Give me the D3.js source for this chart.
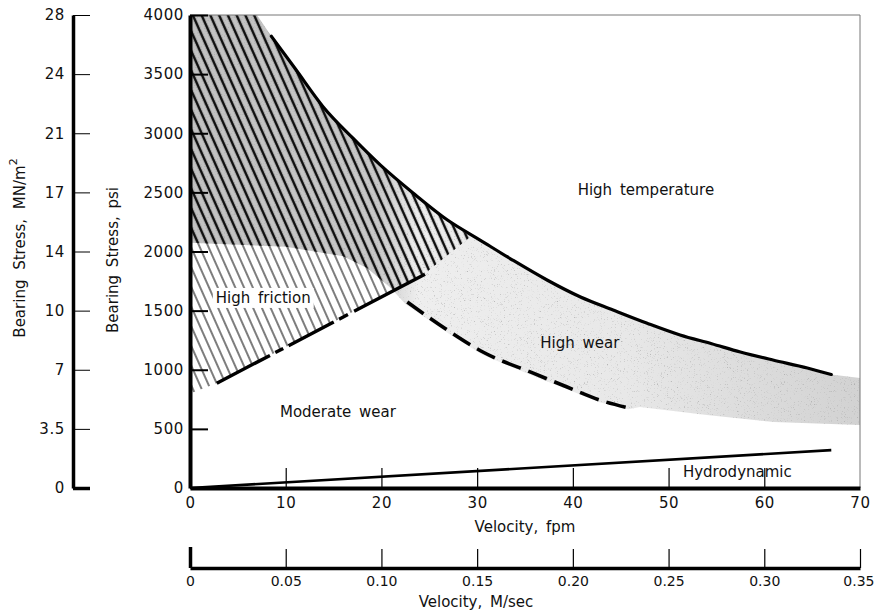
<!DOCTYPE html>
<html>
<head>
<meta charset="utf-8">
<script src="https://cdn.jsdelivr.net/npm/d3@7"></script>
<style>
  body { margin: 0; background: #fff; }
  svg { display: block; font-family: "DejaVu Sans", sans-serif; }
  .tick text { font-size: 15px; letter-spacing: 0.6px; fill: #111; }
  .ms .tick text { font-size: 14px; letter-spacing: 0; }
  .label { font-size: 15px; word-spacing: 3px; fill: #111; }
</style>
</head>
<body>
<div id="chart"></div>
<script>
// axis ticks
const velTicks = [0, 10, 20, 30, 40, 50, 60, 70];
const psiTicks = [0, 500, 1000, 1500, 2000, 2500, 3000, 3500, 4000];
const mnLabels = ["0", "3.5", "7", "10", "14", "17", "21", "24", "28"];
const msTicks = [0, 0.05, 0.10, 0.15, 0.20, 0.25, 0.30, 0.35];
const msLabels = ["0", "0.05", "0.10", "0.15", "0.20", "0.25", "0.30", "0.35"];

// high temperature limit (solid curve)
const tempVel = [8.5, 11, 13.9, 17, 19.9, 23.3, 26.9, 30.3, 33.7, 37.3, 40.8, 44.2, 47.7, 51.2, 54.5, 57.5, 60.9, 64.5, 67];
const tempPsi = [3820, 3545, 3225, 2960, 2730, 2495, 2266, 2097, 1928, 1759, 1615, 1505, 1395, 1294, 1220, 1150, 1082, 1015, 960];

// hydrodynamic line
const hydroVel = [0, 67];
const hydroPsi = [0, 320];

// high friction lower limit (dashed)
const frictionVel = [2.8, 24.6];
const frictionPsi = [886, 1810];

// high wear lower limit (dashed)
const wearVel = [22.7, 27.2, 30.6, 35.8, 39.4, 42.8, 45.8];
const wearPsi = [1573, 1319, 1150, 973, 854, 744, 677];

// hatched zone corners not on the curves
const hatchTopVel = [0, 7];
const hatchTopPsi = [4000, 4000];
const hatchEndVel = [29.3, 24.3];
const hatchEndPsi = [2125, 1800];
const hatchFootVel = [0];
const hatchFootPsi = [800];

// stippled zone: right end and lower edge (right to left)
const stippleEndVel = [70];
const stippleEndPsi = [930];
const stippleLowVel = [70, 61, 54, 47, 45.8, 42.8, 39.4, 35.8, 30.6, 27.2, 22.5, 21, 18.5, 16, 10, 0];
const stipplePsi = [533, 558, 618, 685, 665, 725, 835, 950, 1125, 1295, 1555, 1690, 1860, 1960, 2040, 2075];

// region names
const regionNames = ["High temperature", "High friction", "High wear", "Moderate wear", "Hydrodynamic"];
const regionVel = [40.5, 2.7, 36.6, 9.4, 51.5];
const regionPsi = [2478, 1565, 1184, 600, 93];

const width = 875, height = 616;
const x = d3.scaleLinear().domain([0, 70]).range([190, 860]);
const y = d3.scaleLinear().domain([0, 4000]).range([488, 15]);
const ms = d3.scaleLinear().domain([0, 0.35]).range([190, 860]);

const zip = (a, b) => a.map((v, i) => [v, b[i]]);
const line = d3.line().x(d => x(d[0])).y(d => y(d[1]));
const smooth = d3.line().x(d => x(d[0])).y(d => y(d[1])).curve(d3.curveMonotoneX);

const svg = d3.select("#chart").append("svg")
    .attr("width", width)
    .attr("height", height);

const defs = svg.append("defs");

function hatch(id, w) {
    const p = defs.append("pattern")
        .attr("id", id)
        .attr("patternUnits", "userSpaceOnUse")
        .attr("width", 8)
        .attr("height", 20)
        .attr("patternTransform", "rotate(-24)");
    p.append("line")
        .attr("x1", 2).attr("x2", 2)
        .attr("y1", 0).attr("y2", 20)
        .attr("stroke", "#111")
        .attr("stroke-width", w);
}
hatch("hatchThin", 1.1);
hatch("hatchThick", 2.4);

const grad = defs.append("linearGradient")
    .attr("id", "stippleFill")
    .attr("gradientUnits", "userSpaceOnUse")
    .attr("x1", x(0)).attr("x2", x(70))
    .attr("y1", 0).attr("y2", 0);
[[0, "#c2c2c2"], [0.28, "#c8c8c8"], [0.34, "#eeeeee"], [0.65, "#e8e8e8"], [1, "#d2d2d2"]]
    .forEach(s => grad.append("stop").attr("offset", s[0]).attr("stop-color", s[1]));

// fine speckle texture for the shaded zone
const grain = defs.append("filter").attr("id", "grain");
grain.append("feTurbulence")
    .attr("type", "fractalNoise")
    .attr("baseFrequency", 1.3)
    .attr("numOctaves", 1)
    .attr("seed", 4)
    .attr("result", "noise");
grain.append("feColorMatrix")
    .attr("in", "noise")
    .attr("type", "matrix")
    .attr("values", "0 0 0 0 0.35  0 0 0 0 0.35  0 0 0 0 0.35  3.5 0 0 0 -2.15")
    .attr("result", "dots");
grain.append("feComposite")
    .attr("in", "dots").attr("in2", "SourceAlpha")
    .attr("operator", "in")
    .attr("result", "clipped");
const merge = grain.append("feMerge");
merge.append("feMergeNode").attr("in", "SourceGraphic");
merge.append("feMergeNode").attr("in", "clipped");

// outlines of the shaded zones
const tempPts = zip(tempVel, tempPsi);
const stipplePts = zip(hatchTopVel, hatchTopPsi)
    .concat(tempPts)
    .concat(zip(stippleEndVel, stippleEndPsi))
    .concat(zip(stippleLowVel, stipplePsi));
const hatchPts = zip(hatchTopVel, hatchTopPsi)
    .concat(tempPts.filter(d => d[0] < hatchEndVel[0]))
    .concat(zip(hatchEndVel, hatchEndPsi))
    .concat(zip(frictionVel, frictionPsi).reverse().slice(1))
    .concat(zip(hatchFootVel, hatchFootPsi));

defs.append("clipPath").attr("id", "stippleClip")
    .append("path").attr("d", line(stipplePts) + "Z");

svg.append("path")
    .attr("d", line(stipplePts) + "Z")
    .attr("fill", "url(#stippleFill)")
    .attr("filter", "url(#grain)");

svg.append("path")
    .attr("d", line(hatchPts) + "Z")
    .attr("fill", "url(#hatchThin)");

svg.append("path")
    .attr("d", line(hatchPts) + "Z")
    .attr("fill", "url(#hatchThick)")
    .attr("clip-path", "url(#stippleClip)");

// frame top and right
svg.append("path")
    .attr("d", `M${x(0)},${y(4000)}H${x(70)}V${y(0)}`)
    .attr("fill", "none")
    .attr("stroke", "#777")
    .attr("stroke-width", 1);

// curves
svg.append("path")
    .attr("d", smooth(tempPts))
    .attr("fill", "none")
    .attr("stroke", "#000")
    .attr("stroke-width", 3.2)
    .attr("stroke-linecap", "round");

svg.append("path")
    .attr("d", line(zip(hydroVel, hydroPsi)))
    .attr("fill", "none")
    .attr("stroke", "#000")
    .attr("stroke-width", 2.6);

svg.append("path")
    .attr("d", line(zip(frictionVel, frictionPsi)))
    .attr("fill", "none")
    .attr("stroke", "#000")
    .attr("stroke-width", 3.4)
    .attr("stroke-dasharray", "60,6,9,6,51,6,10,7,80");

svg.append("path")
    .attr("d", smooth(zip(wearVel, wearPsi)))
    .attr("fill", "none")
    .attr("stroke", "#000")
    .attr("stroke-width", 3.6)
    .attr("stroke-dasharray", "20,8");

// axes
function styleAxis(g, tickW, domainW) {
    g.attr("font-size", null).attr("font-family", null);
    g.select(".domain").attr("stroke", "#000").attr("stroke-width", domainW);
    g.selectAll(".tick line").attr("stroke", "#000").attr("stroke-width", tickW);
}

const yAxis = svg.append("g")
    .attr("transform", `translate(${x(0)},0)`)
    .call(d3.axisLeft(y).tickValues(psiTicks).tickFormat(d3.format("d"))
        .tickSizeInner(-18).tickSizeOuter(0).tickPadding(6));
styleAxis(yAxis, 2, 4);
yAxis.selectAll(".tick").filter(d => d === 0).select("line").remove();

const mnAxis = svg.append("g")
    .attr("transform", "translate(73,0)")
    .call(d3.axisLeft(y).tickValues(psiTicks).tickFormat((d, i) => mnLabels[i])
        .tickSizeInner(-17).tickSizeOuter(0).tickPadding(8));
styleAxis(mnAxis, 1, 3.5);
mnAxis.selectAll(".tick").filter(d => d === 0).select("line").attr("stroke-width", 3.5);

const xAxis = svg.append("g")
    .attr("transform", `translate(0,${y(0)})`)
    .call(d3.axisBottom(x).tickValues(velTicks).tickFormat(d3.format("d"))
        .tickSizeInner(-20).tickSizeOuter(0).tickPadding(9));
styleAxis(xAxis, 1.2, 4);
xAxis.selectAll(".tick").filter(d => d === 0 || d === 70).select("line").remove();

const msAxis = svg.append("g")
    .attr("class", "ms")
    .attr("transform", "translate(0,568)")
    .call(d3.axisBottom(ms).tickValues(msTicks).tickFormat((d, i) => msLabels[i])
        .tickSizeInner(-19).tickSizeOuter(0).tickPadding(8));
styleAxis(msAxis, 1.2, 3.5);
msAxis.selectAll(".tick").filter(d => d === 0).select("line")
    .attr("y2", -21).attr("stroke-width", 3.5);
msAxis.selectAll(".tick").filter(d => d === 0.35).select("text")
    .attr("text-anchor", "end").attr("x", 14);

// axis titles
svg.append("text")
    .attr("class", "label")
    .attr("text-anchor", "middle")
    .attr("x", 525).attr("y", 532)
    .text("Velocity, fpm");

svg.append("text")
    .attr("class", "label")
    .attr("text-anchor", "middle")
    .attr("x", 476).attr("y", 607)
    .text("Velocity, M/sec");

svg.append("text")
    .attr("class", "label")
    .attr("text-anchor", "middle")
    .attr("transform", "translate(118,260) rotate(-90)")
    .text("Bearing Stress, psi");

const mnTitle = svg.append("text")
    .attr("class", "label")
    .attr("text-anchor", "middle")
    .style("word-spacing", "5px")
    .attr("transform", "translate(25,248) rotate(-90)")
    .text("Bearing Stress, MN/m");
mnTitle.append("tspan")
    .attr("dy", -8)
    .attr("font-size", 11)
    .text("2");

// region labels
const regions = svg.selectAll(".region")
    .data(regionNames)
    .join("g")
    .attr("class", "region");

regions.append("text")
    .attr("class", "label")
    .attr("x", (d, i) => x(regionVel[i]))
    .attr("y", (d, i) => y(regionPsi[i]))
    .text(d => d);

// clear the hatching behind the friction label
regions.filter(d => d === "High friction").each(function () {
    const g = d3.select(this);
    const b = g.select("text").node().getBBox();
    g.insert("rect", "text")
        .attr("x", b.x - 3).attr("y", b.y - 1)
        .attr("width", b.width + 6).attr("height", b.height + 2)
        .attr("fill", "#fff");
});
</script>
</body>
</html>
